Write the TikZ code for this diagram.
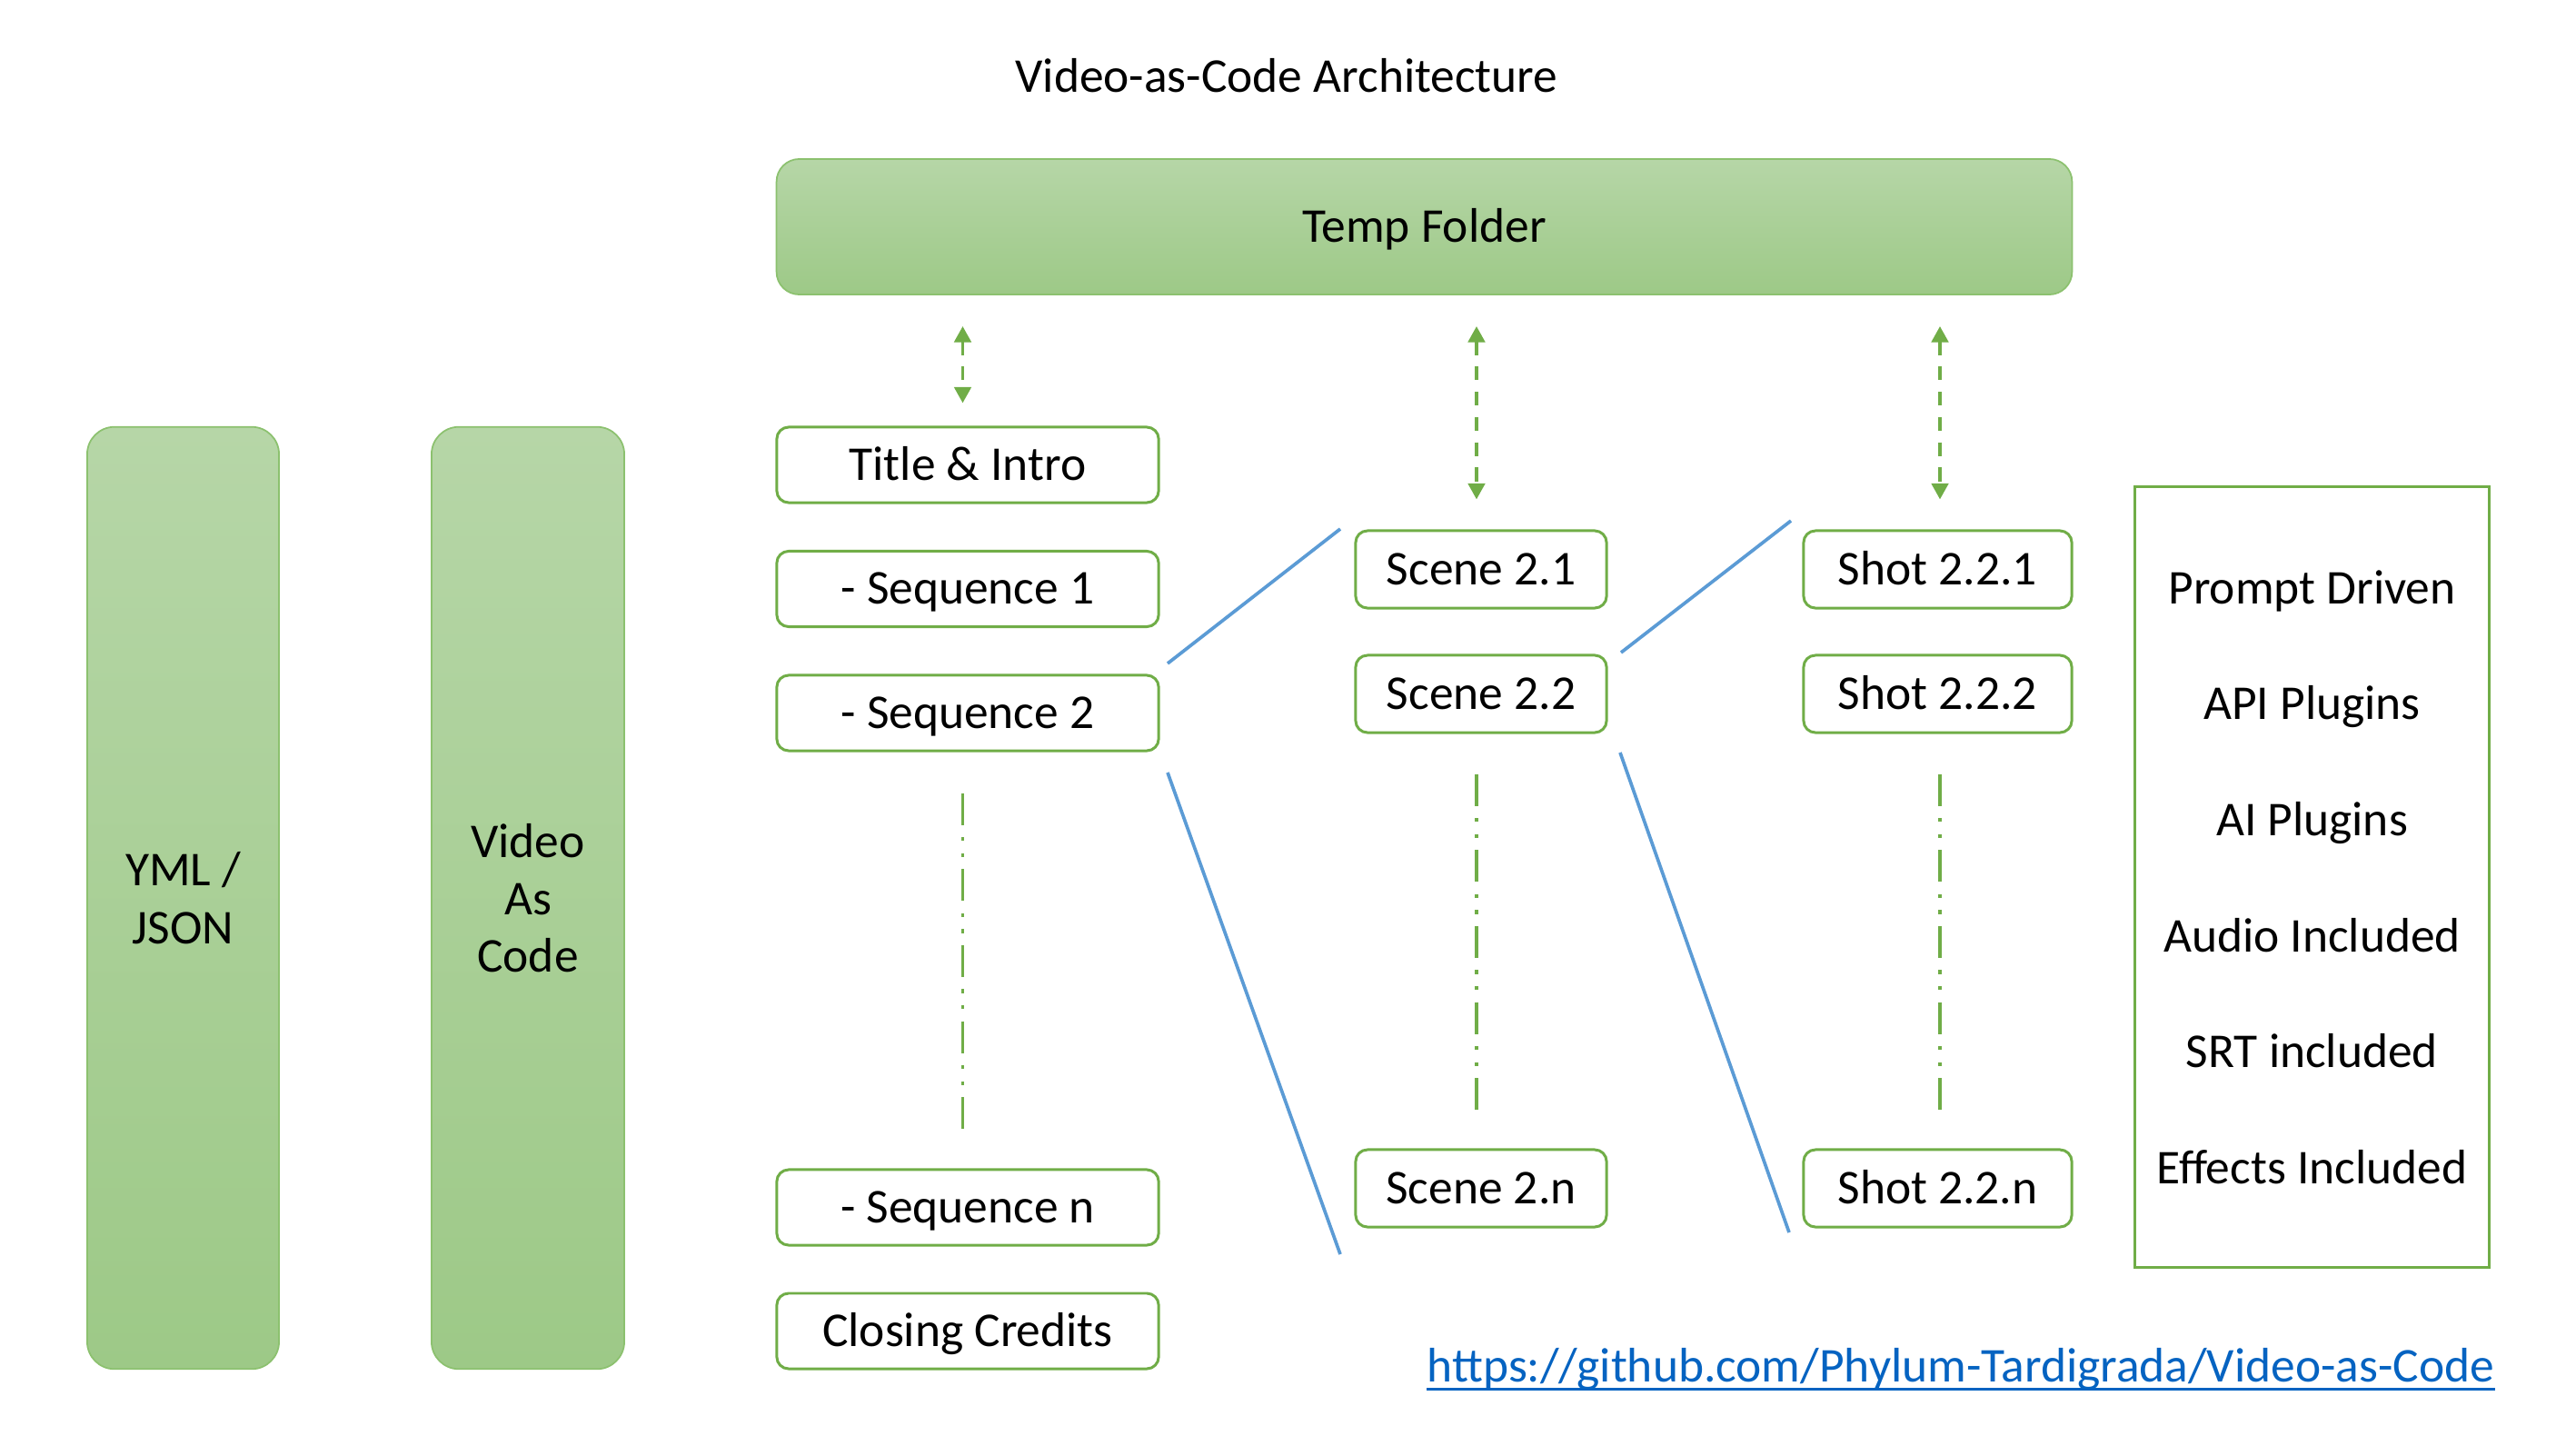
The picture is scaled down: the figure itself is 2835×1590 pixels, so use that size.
\documentclass[tikz,border=0pt]{standalone}
\usepackage{fontspec}
\setmainfont{Carlito}
\usetikzlibrary{arrows.meta,calc}
\definecolor{ogreen}{RGB}{112,173,71}
\definecolor{oblue}{RGB}{91,155,213}
\definecolor{gtop}{RGB}{182,214,167}
\definecolor{gbot}{RGB}{157,201,135}
\definecolor{gline}{RGB}{140,193,111}
\definecolor{linkblue}{RGB}{5,99,193}
\begin{document}
\begin{tikzpicture}[x=0.01cm,y=-0.01cm,
  txt/.style={font=\fontsize{15.2pt}{18pt}\selectfont},
  caps/.style={text height=0.95em, text depth=0pt},
  whitebox/.style={txt, caps, draw=ogreen, line width=0.85pt, fill=white, rounded corners=0.13cm, inner sep=0pt},
  gradbox/.style={txt, draw=gline, line width=0.5pt, top color=gtop, bottom color=gbot, rounded corners=0.3cm, inner sep=0pt, align=center},
  dblarrow/.style={ogreen, line width=1.1pt, dash pattern=on 4.3pt off 3.6pt, {Triangle[width=5.2pt,length=5pt]}-{Triangle[width=5.2pt,length=5pt]}},
  dashdot/.style={ogreen, line width=1.1pt, dash pattern=on 10pt off 3.8pt on 1.2pt off 3.8pt on 1.2pt off 3.8pt},
  connline/.style={oblue, line width=1.05pt}
]
\useasboundingbox (0,0) rectangle (2835,1590);

% title
\node[txt, caps, inner sep=0pt] (title) at (1416,85) {Video-as-Code Architecture};

% temp folder
\node[gradbox, caps, rounded corners=0.25cm, minimum width=14.25cm, minimum height=1.49cm] (temp) at (1567.5,249.5) {Temp Folder};

% left tall boxes
\node[gradbox, minimum width=2.11cm, minimum height=10.36cm] (yml) at (201.5,988) {YML /\\JSON};
\node[gradbox, minimum width=2.12cm, minimum height=10.36cm] (vac) at (581,988) {Video\\As\\Code};

% sequence column
\node[whitebox, minimum width=4.2cm, minimum height=0.83cm] (intro) at (1065,511.5) {Title \& Intro};
\node[whitebox, minimum width=4.2cm, minimum height=0.83cm] (seq1) at (1065,648) {- Sequence 1};
\node[whitebox, minimum width=4.2cm, minimum height=0.83cm] (seq2) at (1065,784.5) {- Sequence 2};
\node[whitebox, minimum width=4.2cm, minimum height=0.83cm] (seqn) at (1065,1328.5) {- Sequence n};
\node[whitebox, minimum width=4.2cm, minimum height=0.83cm] (credits) at (1065,1464.5) {Closing Credits};

% scene column
\node[whitebox, minimum width=2.76cm, minimum height=0.85cm] (sc1) at (1630,626.5) {Scene 2.1};
\node[whitebox, minimum width=2.76cm, minimum height=0.85cm] (sc2) at (1630,763.5) {Scene 2.2};
\node[whitebox, minimum width=2.76cm, minimum height=0.85cm] (scn) at (1630,1307.5) {Scene 2.n};

% shot column
\node[whitebox, minimum width=2.95cm, minimum height=0.85cm] (sh1) at (2132.5,626.5) {Shot 2.2.1};
\node[whitebox, minimum width=2.95cm, minimum height=0.85cm] (sh2) at (2132.5,763.5) {Shot 2.2.2};
\node[whitebox, minimum width=2.95cm, minimum height=0.85cm] (shn) at (2132.5,1307.5) {Shot 2.2.n};

% features box
\node[draw=ogreen, line width=0.85pt, inner sep=0pt, minimum width=3.89cm, minimum height=8.59cm, align=center,
      font=\fontsize{15.2pt}{36.3pt}\selectfont] (feat) at (2544.5,965)
  {Prompt Driven\\API Plugins\\AI Plugins\\Audio Included\\SRT included\\Effects Included};

% link
\node[txt, caps, inner sep=0pt, text=linkblue] (url) at (2158,1504) {https://github.com/Phylum-Tardigrada/Video-as-Code};
\draw[linkblue, line width=0.7pt] ($(url.base west)+(0,8)$) -- ($(url.base east)+(0,8)$);

% arrows to temp folder
\draw[dblarrow, shorten <=0.34cm, shorten >=0.25cm] ([xshift=-0.055cm]temp.south -| intro.north) -- ([xshift=-0.055cm]intro.north);
\draw[dblarrow, shorten <=0.34cm, shorten >=0.33cm] ([xshift=-0.05cm]temp.south -| sc1.north) -- ([xshift=-0.05cm]sc1.north);
\draw[dblarrow, shorten <=0.34cm, shorten >=0.33cm] ([xshift=0.025cm]temp.south -| sh1.north) -- ([xshift=0.025cm]sh1.north);

% dash-dot continuations
\draw[dashdot, shorten <=0.45cm, shorten >=0.43cm] ([xshift=-0.055cm]seq2.south) -- ([xshift=-0.055cm]seqn.north);
\draw[dashdot, shorten <=0.44cm, shorten >=0.42cm] ([xshift=-0.05cm]sc2.south) -- ([xshift=-0.05cm]scn.north);
\draw[dashdot, shorten <=0.44cm, shorten >=0.42cm] ([xshift=0.025cm]sh2.south) -- ([xshift=0.025cm]shn.north);

% expansion lines
\coordinate (b1s) at (1285,730);
\coordinate (b1e) at (1475,582);
\coordinate (b2s) at (1285,850);
\coordinate (b2e) at (1475,1380);
\coordinate (b3s) at (1784,718);
\coordinate (b3e) at (1971,573);
\coordinate (b4s) at (1783,828);
\coordinate (b4e) at (1969,1356);
\draw[connline] (b1s) -- (b1e);
\draw[connline] (b2s) -- (b2e);
\draw[connline] (b3s) -- (b3e);
\draw[connline] (b4s) -- (b4e);
\end{tikzpicture}
\end{document}
